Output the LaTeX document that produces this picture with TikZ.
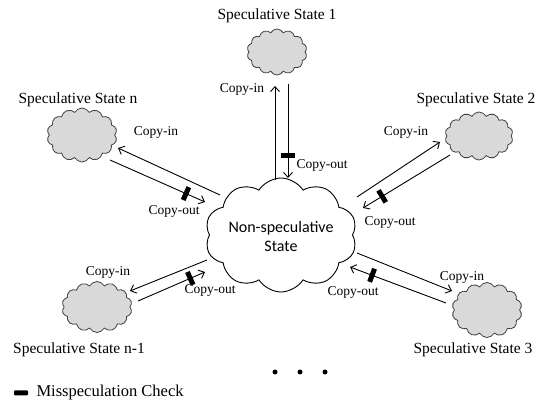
\documentclass[tikz,border=0pt]{standalone}
\usepackage{fontspec}
\setmainfont{Liberation Serif}
\newfontfamily\cloudfont{Carlito}
\usetikzlibrary{calc,shapes.symbols,arrows.meta}
\tikzset{
  statecloud/.style={cloud, cloud puffs=14, cloud puff arc=125, draw=black!75, fill=black!15, line width=0.8pt, inner sep=0pt},
  maincloud/.style={cloud, cloud puffs=10, cloud puff arc=115, draw=black, fill=white, line width=0.9pt, inner sep=0pt},
  copyarrow/.style={line width=0.9pt, -{Straight Barb[length=5pt,width=9pt]}},
  checkbar/.style={fill=black, inner sep=0pt, minimum width=5pt, minimum height=14pt, sloped},
  statelabel/.style={font=\fontsize{15.5}{18}\selectfont},
  copylabel/.style={font=\fontsize{13.5}{16}\selectfont, inner sep=1pt},
}

\begin{document}
\begin{tikzpicture}[x=1pt,y=-1pt]
	%%%%% START %%%%%
	\useasboundingbox (0,0) rectangle (550,406);
	
	\node[maincloud, minimum width=152, minimum height=114] (c) at (281,235) {};
	\node[align=center, font=\cloudfont\fontsize{16}{19}\selectfont] (ctext) at (281,237) {Non-speculative\\State};
	
	\node[statecloud, minimum width=60, minimum height=46] (s1) at (277,52) {};
	\node[statecloud, minimum width=70, minimum height=54] (sn) at (82,135) {};
	\node[statecloud, minimum width=68, minimum height=48] (s2) at (479,136) {};
	\node[statecloud, minimum width=70, minimum height=51] (sn1) at (97,307) {};
	\node[statecloud, minimum width=70, minimum height=55] (s3) at (487,310) {};
	
	\node[statelabel] (l1) at (277,16) {Speculative State 1};
	\node[statelabel] (ln) at (78,100) {Speculative State n};
	\node[statelabel] (l2) at (476,100) {Speculative State 2};
	\node[statelabel] (ln1) at (79,350) {Speculative State n-1};
	\node[statelabel] (l3) at (473,350) {Speculative State 3};
	
	% state 1
	\draw[copyarrow] ($(c)+(-6,-55)$) -- ($(s1)+(-2,34)$);
	\draw[copyarrow] ($(s1)+(11,32)$) -- node[checkbar, pos=0.76] (b1) {} ($(c)+(7,-57)$);
	\node[copylabel] (in1) at (242,89) {Copy-in};
	\node[copylabel] (out1) at (322,165) {Copy-out};
	
	% state n
	\draw[copyarrow] ($(c)+(-61,-40)$) -- ($(sn)+(36,13)$);
	\draw[copyarrow] ($(sn)+(28,25)$) -- node[checkbar, pos=0.8] (bn) {} ($(c)+(-76,-33)$);
	\node[copylabel] (inn) at (156,132) {Copy-in};
	\node[copylabel] (outn) at (174,211) {Copy-out};
	
	% state 2
	\draw[copyarrow] ($(c)+(76,-38)$) -- ($(s2)+(-39,6)$);
	\draw[copyarrow] ($(s2)+(-29,19)$) -- node[checkbar, pos=0.78] (b2) {} ($(c)+(82,-27)$);
	\node[copylabel] (in2) at (406,132) {Copy-in};
	\node[copylabel] (out2) at (390,222) {Copy-out};
	
	% state n-1
	\draw[copyarrow] ($(c)+(-74,25)$) -- ($(sn1)+(33,-16)$);
	\draw[copyarrow] ($(sn1)+(41,-6)$) -- node[checkbar, pos=0.78] (bn1) {} ($(c)+(-76,37)$);
	\node[copylabel] (inn1) at (108,272) {Copy-in};
	\node[copylabel] (outn1) at (210,290) {Copy-out};
	
	% state 3
	\draw[copyarrow] ($(c)+(76,18)$) -- ($(s3)+(-35,-19)$);
	\draw[copyarrow] ($(s3)+(-41,-7)$) -- node[checkbar, pos=0.77] (b3) {} ($(c)+(69,32)$);
	\node[copylabel] (in3) at (462,277) {Copy-in};
	\node[copylabel] (out3) at (353,292) {Copy-out};
	
	% dots
	\fill (275,372) circle (2.5);
	\fill (300,372) circle (2.5);
	\fill (325,372) circle (2.5);
	
	% key
	\node[fill=black, inner sep=0pt, minimum width=14, minimum height=5, rounded corners=1pt] (keybar) at (21,393) {};
	\node[font=\fontsize{16.5}{19}\selectfont, anchor=west] (key) at (33,393) {Misspeculation Check};
	
	%%%%% END %%%%%
\end{tikzpicture}
\end{document}
